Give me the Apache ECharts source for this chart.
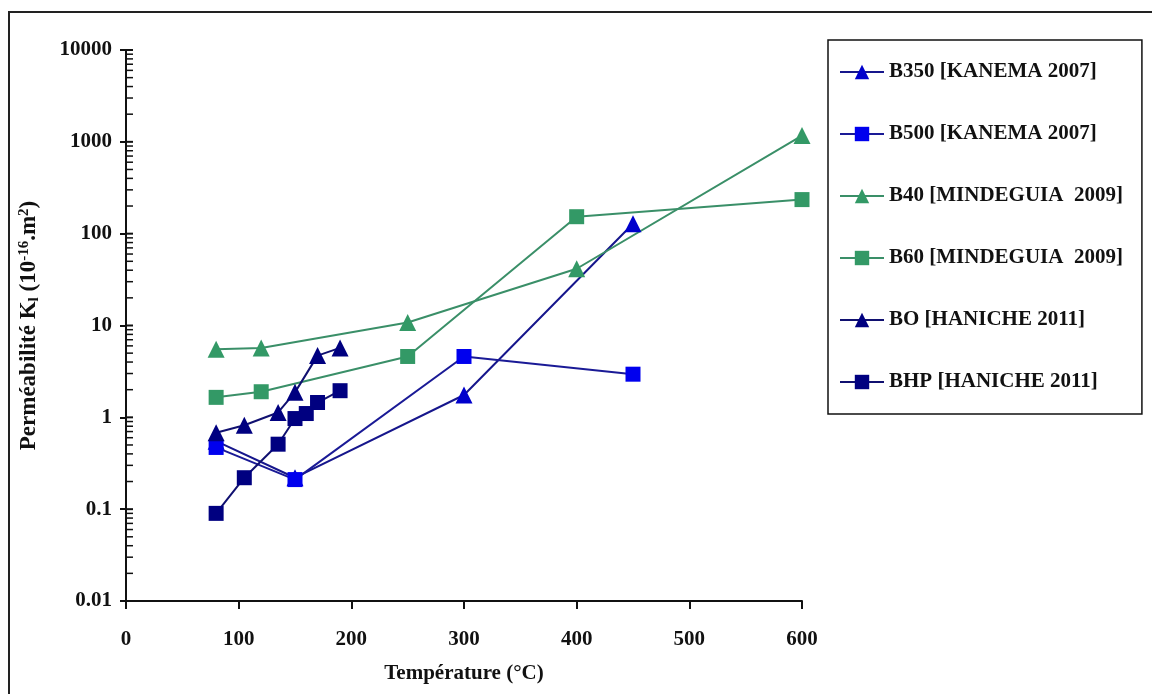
<!DOCTYPE html>
<html>
<head>
<meta charset="utf-8">
<script src="https://cdn.jsdelivr.net/npm/echarts@6/dist/echarts.min.js"></script>
<style>
    html, body { margin: 0; padding: 0; background: #fff; }
    #chart { width: 1152px; height: 694px; }
</style>
</head>
<body>
<div id="chart"></div>
<script>
/* data */
var b350T = [80, 150, 300, 450];
var b350K = [0.55, 0.22, 1.75, 128];
var b500T = [80, 150, 300, 450];
var b500K = [0.47, 0.21, 4.6, 2.95];
var b40T = [80, 120, 250, 400, 600];
var b40K = [5.5, 5.7, 10.8, 41.5, 1170];
var b60T = [80, 120, 250, 400, 600];
var b60K = [1.65, 1.9, 4.6, 153, 235];
var boT = [80, 105, 135, 150, 170, 190];
var boK = [0.68, 0.82, 1.13, 1.87, 4.7, 5.7];
var bhpT = [80, 105, 135, 150, 160, 170, 190];
var bhpK = [0.09, 0.22, 0.51, 0.97, 1.1, 1.45, 1.95];
var xTicks = [0, 100, 200, 300, 400, 500, 600];
var yTicks = [0.01, 0.1, 1, 10, 100, 1000, 10000];

var pairs = function (xs, ys) {
    var out = [];
    xs.forEach(function (x, i) { out.push([x, ys[i]]); });
    return out;
};

// minor ticks 2..9 per decade, and the inner half of the major ticks
var tickVals = [];
yTicks.forEach(function (d, i) {
    tickVals.push([0, d, 1]);
    if (i < yTicks.length - 1) {
        for (var k = 2; k <= 9; k++) tickVals.push([0, +(d * k).toPrecision(3), 0]);
    }
});

var serif = 'Liberation Serif';
var box = document.getElementById('chart');
var myChart = echarts.init(box);

var lineSeries = function (name, xs, ys, symbol, size, mColor, lColor) {
    return {
        name: name,
        type: 'line',
        data: pairs(xs, ys),
        symbol: symbol,
        symbolSize: size,
        itemStyle: { color: mColor },
        lineStyle: { color: lColor, width: 2 },
        emphasis: { disabled: true },
        z: 3
    };
};

var options = {
    animation: false,
    backgroundColor: '#fff',
    textStyle: { fontFamily: serif },
    graphic: [{
        type: 'rect',
        shape: { x: 9, y: 12, width: 1160, height: 700 },
        style: { fill: 'none', stroke: '#222', lineWidth: 2 },
        silent: true
    }],
    grid: { left: 126, right: 350, top: 50, bottom: 93 },
    legend: {
        orient: 'vertical',
        left: 828,
        top: 40,
        padding: [20, 19, 20, 11],
        itemGap: 38,
        itemWidth: 44,
        itemHeight: 18,
        borderColor: '#111',
        borderWidth: 1.5,
        textStyle: { fontFamily: serif, fontWeight: 'bold', fontSize: 21, lineHeight: 24, color: '#111' },
        data: ['B350 [KANEMA 2007]', 'B500 [KANEMA 2007]', 'B40 [MINDEGUIA  2009]',
            'B60 [MINDEGUIA  2009]', 'BO [HANICHE 2011]', 'BHP [HANICHE 2011]']
    },
    xAxis: {
        type: 'value',
        min: 0,
        max: 600,
        interval: 100,
        name: 'Température (°C)',
        nameLocation: 'middle',
        nameGap: 62,
        nameTextStyle: { fontFamily: serif, fontWeight: 'bold', fontSize: 21, color: '#111' },
        axisLine: { lineStyle: { color: '#111', width: 2 } },
        axisTick: { length: 8, lineStyle: { color: '#111', width: 2 } },
        axisLabel: { margin: 28, fontFamily: serif, fontWeight: 'bold', fontSize: 21, color: '#111' },
        splitLine: { show: false }
    },
    yAxis: {
        type: 'log',
        logBase: 10,
        min: 0.01,
        max: 10000,
        name: 'Perméabilité K{sub|l} (10{sup|-16}.m{sup|2})',
        nameLocation: 'middle',
        nameGap: 84,
        nameTextStyle: {
            fontFamily: serif, fontWeight: 'bold', fontSize: 23, color: '#111',
            rich: {
                sub: { fontFamily: serif, fontWeight: 'bold', fontSize: 15, color: '#111', verticalAlign: 'bottom', padding: [8, 0, 0, 0] },
                sup: { fontFamily: serif, fontWeight: 'bold', fontSize: 15, color: '#111', verticalAlign: 'top', padding: [0, 0, 10, 0] }
            }
        },
        axisLine: { show: true, lineStyle: { color: '#111', width: 2 } },
        axisTick: { show: true, length: 6, lineStyle: { color: '#111', width: 2 } },
        axisLabel: {
            margin: 14, fontFamily: serif, fontWeight: 'bold', fontSize: 21, color: '#111',
            formatter: function (v) { return String(+v.toPrecision(3)); }
        },
        splitLine: { show: false }
    },
    series: [
        lineSeries('B350 [KANEMA 2007]', b350T, b350K, 'triangle', 17, '#0000cc', '#16168c'),
        lineSeries('B500 [KANEMA 2007]', b500T, b500K, 'rect', 15, '#0000ee', '#1a1a96'),
        lineSeries('B40 [MINDEGUIA  2009]', b40T, b40K, 'triangle', 17, '#339966', '#3a8f68'),
        lineSeries('B60 [MINDEGUIA  2009]', b60T, b60K, 'rect', 15, '#339966', '#3a8f68'),
        lineSeries('BO [HANICHE 2011]', boT, boK, 'triangle', 17, '#000080', '#101070'),
        lineSeries('BHP [HANICHE 2011]', bhpT, bhpK, 'rect', 15, '#000080', '#101070'),
        {
            name: 'ticks',
            type: 'custom',
            silent: true,
            clip: false,
            data: tickVals,
            renderItem: function (params, api) {
                var p = api.coord([api.value(0), api.value(1)]);
                return {
                    type: 'line',
                    shape: { x1: p[0], y1: p[1], x2: p[0] + 7, y2: p[1] },
                    style: { stroke: '#111', lineWidth: api.value(2) ? 2 : 1.5 }
                };
            },
            z: 2
        }
    ]
};
myChart.setOption(options);
</script>
</body>
</html>
